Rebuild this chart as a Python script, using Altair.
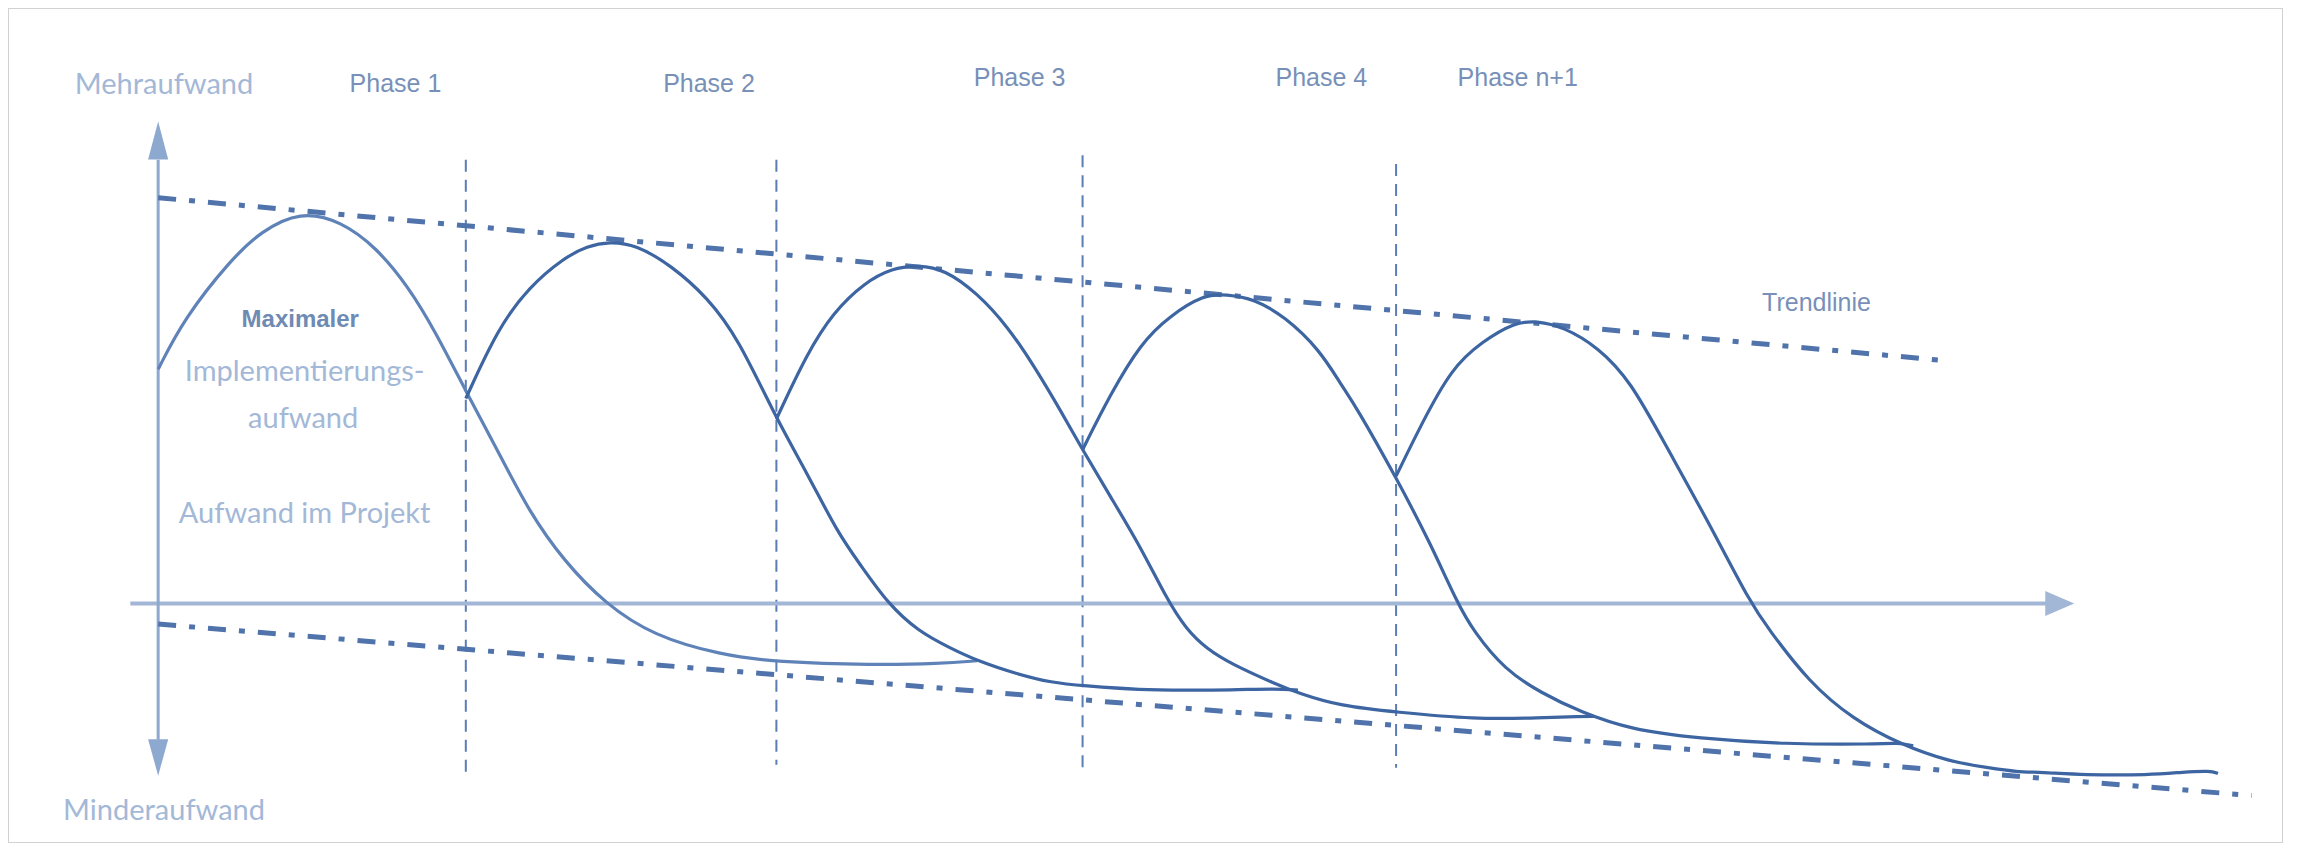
import altair as alt
import pandas as pd

# ---------------- data (time units along x, effort units along y; 0 = axes) -------------
curve1_x = [0, 18, 49, 70, 97, 125, 149, 171, 189, 210, 232, 253, 277, 305, 338, 384, 422, 488, 534, 559]
curve1_y = [160, 195, 234, 254, 268, 261, 243, 216, 186, 145, 104, 63, 29, 0, -22, -35, -40, -42, -41, -39]

curve2_x = [210, 232, 253, 277, 293, 308, 326, 350, 375, 396, 422, 443, 464, 479, 498, 519, 540, 559,
            586, 610, 631, 671, 702, 732, 763, 778]
curve2_y = [140, 188, 216, 236, 244, 247, 245, 231, 209, 181, 126, 89, 48, 27, 0, -19, -30, -39,
            -48, -54, -56, -59, -59, -59, -58, -59]

curve3_x = [422, 443, 461, 482, 501, 519, 537, 559, 580, 598, 617, 631, 650, 671, 688, 702, 716, 732,
            763, 778, 807, 845, 898, 944, 971, 980]
curve3_y = [126, 171, 199, 219, 229, 231, 228, 212, 189, 162, 130, 105, 73, 38, 4, -18, -31, -41,
            -55, -61, -70, -74, -79, -78, -77, -77]

curve4_x = [631, 650, 671, 690, 714, 729, 748, 769, 793, 807, 818, 845, 868, 887, 898, 919, 944, 971,
            1005, 1051, 1111, 1172, 1188, 1198]
curve4_y = [105, 143, 178, 196, 211, 211, 208, 196, 173, 150, 134, 86, 42, 0, -19, -45, -61, -74,
            -86, -92, -96, -96, -95, -97]

curve5_x = [845, 862, 883, 904, 926, 941, 959, 983, 1005, 1029, 1057, 1087, 1099, 1127, 1157, 1189,
            1223, 1249, 1269, 1285, 1314, 1360, 1382, 1401, 1406]
curve5_y = [87, 122, 161, 179, 192, 193, 189, 175, 152, 108, 58, 0, -17, -54, -79, -96,
            -108, -112, -115, -115, -117, -117, -115, -114, -116]

curve_names = ["Phase 1", "Phase 2", "Phase 3", "Phase 4", "Phase n+1"]
curve_colors = ["#5f83b8", "#3d65a2", "#3d65a2", "#3d65a2", "#3d65a2"]

phase_line_x = [210, 422, 631, 845]
phase_line_top = [303, 303, 306, 300]
phase_line_bottom = [-117, -110, -115, -112]

trend_upper_x = [0, 1218]
trend_upper_y = [277, 166]
trend_lower_x = [0, 1429]
trend_lower_y = [-14, -131]

h_axis_x = [-19, 1289]
v_axis_y = [-93, 303]
arrow_right = (1298, 0)
arrow_up = (0, 316)
arrow_down = (0, -105)

phase_labels = ["Phase 1", "Phase 2", "Phase 3", "Phase 4", "Phase n+1"]
phase_label_x = [162, 376, 588, 794, 928]
phase_label_y = [349, 349, 353, 353, 353]

light_labels = ["Mehraufwand", "Minderaufwand", "Implementierungs-", "aufwand", "Aufwand im Projekt"]
light_label_x = [4, 4, 100, 99, 100]
light_label_y = [348, -148, 152, 120, 55]

# ---------------- scales ----------------
xs = alt.Scale(domain=[-102.5, 1450.4], nice=False, zero=False)
ys = alt.Scale(domain=[-163.4, 406.5], nice=False, zero=False)


def X(f="x"):
    return alt.X(f"{f}:Q", scale=xs, axis=None)


def Y(f="y"):
    return alt.Y(f"{f}:Q", scale=ys, axis=None)


rows = []
for name, cx, cy in zip(curve_names, [curve1_x, curve2_x, curve3_x, curve4_x, curve5_x],
                        [curve1_y, curve2_y, curve3_y, curve4_y, curve5_y]):
    for i, (a, b) in enumerate(zip(cx, cy)):
        rows.append({"curve": name, "i": i, "x": a, "y": b})
curves_df = pd.DataFrame(rows)

curves = alt.Chart(curves_df).mark_line(strokeWidth=3.2, interpolate="basis").encode(
    x=X(), y=Y(),
    color=alt.Color("curve:N", scale=alt.Scale(domain=curve_names, range=curve_colors), legend=None),
    detail="curve:N", order="i:Q")

phase_df = pd.DataFrame({"x": phase_line_x, "y": phase_line_top, "y2": phase_line_bottom})
phase_rules = alt.Chart(phase_df).mark_rule(strokeWidth=2, strokeDash=[12, 8], color="#5b7db3").encode(
    x=X(), y=Y(), y2="y2:Q")

trend_df = pd.DataFrame({
    "t": ["up", "up", "low", "low"],
    "x": trend_upper_x + trend_lower_x,
    "y": trend_upper_y + trend_lower_y,
})
trends = alt.Chart(trend_df).mark_line(strokeWidth=5, strokeDash=[18, 13, 6, 13], color="#4f73aa").encode(
    x=X(), y=Y(), detail="t:N")

h_axis = alt.Chart(pd.DataFrame({"x": [h_axis_x[0]], "x2": [h_axis_x[1]], "y": [0]})).mark_rule(
    strokeWidth=4, color="#a2b6d6").encode(x=X(), x2="x2:Q", y=Y())
v_axis = alt.Chart(pd.DataFrame({"x": [0], "y": [v_axis_y[0]], "y2": [v_axis_y[1]]})).mark_rule(
    strokeWidth=3, color="#8ea9cf").encode(x=X(), y=Y(), y2="y2:Q")

arr_r = alt.Chart(pd.DataFrame({"x": [arrow_right[0]], "y": [arrow_right[1]]})).mark_point(
    shape="M 1 0 L -1 -0.86 L -1 0.86 Z", filled=True, size=841, opacity=1, color="#a2b6d6",
    strokeWidth=0).encode(x=X(), y=Y())
arr_u = alt.Chart(pd.DataFrame({"x": [arrow_up[0]], "y": [arrow_up[1]]})).mark_point(
    shape="M 0 -1 L 0.53 1 L -0.53 1 Z", filled=True, size=1444, opacity=1, color="#8ea9cf",
    strokeWidth=0).encode(x=X(), y=Y())
arr_d = alt.Chart(pd.DataFrame({"x": [arrow_down[0]], "y": [arrow_down[1]]})).mark_point(
    shape="M 0 1 L 0.55 -1 L -0.55 -1 Z", filled=True, size=1340, opacity=1, color="#8ea9cf",
    strokeWidth=0).encode(x=X(), y=Y())

phase_text = alt.Chart(pd.DataFrame({"t": phase_labels, "x": phase_label_x, "y": phase_label_y})).mark_text(
    font="Liberation Sans", fontSize=25, color="#7890b8", align="center", baseline="alphabetic").encode(
    x=X(), y=Y(), text="t:N")

trend_text = alt.Chart(pd.DataFrame({"t": ["Trendlinie"], "x": [1132], "y": [200]})).mark_text(
    font="Liberation Sans", fontSize=25, color="#7890b8", align="center", baseline="alphabetic").encode(
    x=X(), y=Y(), text="t:N")

max_text = alt.Chart(pd.DataFrame({"t": ["Maximaler"], "x": [97], "y": [189]})).mark_text(
    font="Liberation Sans", fontSize=24, fontWeight="bold", color="#6f8ab3", align="center",
    baseline="alphabetic").encode(x=X(), y=Y(), text="t:N")

light_text = alt.Chart(pd.DataFrame({"t": light_labels, "x": light_label_x, "y": light_label_y})).mark_text(
    font="Lato", fontSize=29, color="#a3b8d7", align="center", baseline="alphabetic").encode(
    x=X(), y=Y(), text="t:N")

chart = alt.layer(
    phase_rules, h_axis, v_axis, arr_r, arr_u, arr_d, trends, curves,
    phase_text, trend_text, max_text, light_text
).properties(
    width=2275, height=835, padding=0, autosize=alt.AutoSizeParams(type="none"), background="white"
).configure_view(stroke="#d2d2d2", strokeWidth=2)

chart.save("out.html", embed_options={"renderer": "svg", "actions": False})
